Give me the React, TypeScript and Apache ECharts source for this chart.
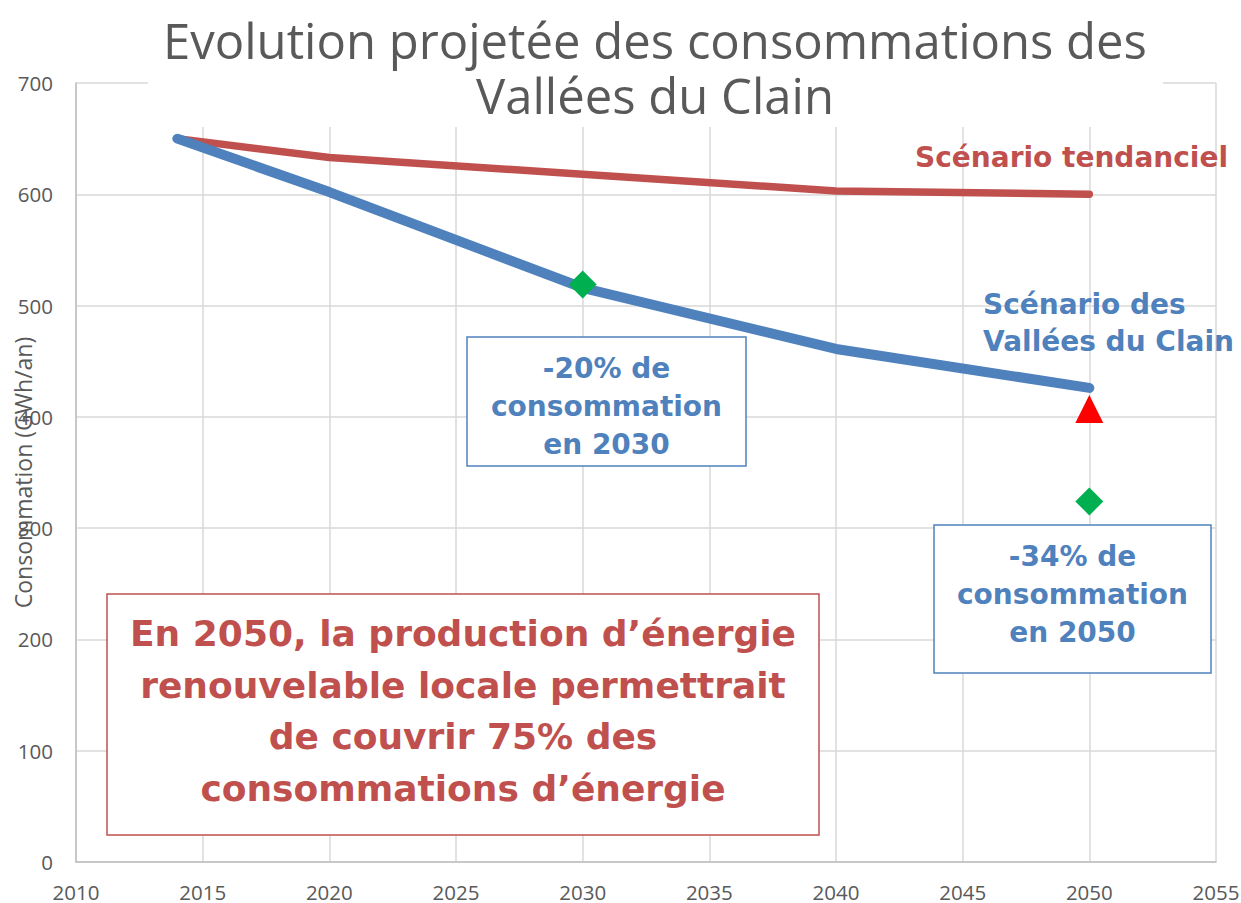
import React, { useEffect, useRef } from "react";
import * as echarts from "echarts";

const xTicks = { min: 2010, max: 2055, interval: 5 };
const yTicks = { min: 0, max: 700, interval: 100 };

const tendancielData: [number, number][] = [
  [2014, 650],
  [2020, 633],
  [2030, 618],
  [2040, 603],
  [2050, 600],
];
const valleesData: [number, number][] = [
  [2014, 650],
  [2020, 602],
  [2030, 516],
  [2040, 461],
  [2050, 426],
];
const diamondTargets: [number, number][] = [
  [2030, 519],
  [2050, 324],
];
const triangleTargets: [number, number][] = [[2050, 407]];

const titleLines = ["Evolution projetée des consommations des", "Vallées du Clain"];
const yAxisName = "Consommation (GWh/an)";
const labelTendanciel = "Scénario tendanciel";
const labelVallees = ["Scénario des", "Vallées du Clain"];
const box2030 = ["-20% de", "consommation", "en 2030"];
const box2050 = ["-34% de", "consommation", "en 2050"];
const boxEnr = [
  "En 2050, la production d’énergie",
  "renouvelable locale permettrait",
  "de couvrir 75% des",
  "consommations d’énergie",
];

const RED = "#C0504D";
const BLUE = "#4F81BD";
const GREY = "#595959";
const FONT = "'Open Sans', 'DejaVu Sans', sans-serif";
const BOLD_FONT = "'DejaVu Sans', 'Open Sans', sans-serif";

function boxGroup(
  x: number,
  y: number,
  w: number,
  h: number,
  color: string,
  lines: string[],
  fontSize: number,
  lineHeight: number,
  centerY: number
) {
  return [
    {
      type: "rect",
      shape: { x, y, width: w, height: h },
      style: { fill: "#FFFFFF", stroke: color, lineWidth: 1.5 },
      z: 50,
    },
    {
      type: "text",
      x: x + w / 2,
      y: centerY,
      style: {
        text: lines.join("\n"),
        fill: color,
        font: `bold ${fontSize}px ${BOLD_FONT}`,
        lineHeight,
        textAlign: "center",
        textVerticalAlign: "middle",
      },
      z: 51,
    },
  ];
}

export default function App() {
  const ref = useRef<HTMLDivElement>(null);

  useEffect(() => {
    if (!ref.current) return;
    const chart = echarts.init(ref.current, null, { renderer: "svg" });

    const graphics: any[] = [
      {
        type: "rect",
        shape: { x: 148, y: 0, width: 1015, height: 127 },
        style: { fill: "#FFFFFF" },
        z: 40,
      },
      {
        type: "text",
        x: 655,
        y: 67.5,
        style: {
          text: titleLines.join("\n"),
          fill: GREY,
          font: `49px ${FONT}`,
          lineHeight: 55,
          textAlign: "center",
          textVerticalAlign: "middle",
        },
        z: 41,
      },
      {
        type: "text",
        x: 1228,
        y: 157,
        style: {
          text: labelTendanciel,
          fill: RED,
          font: `bold 28px ${BOLD_FONT}`,
          textAlign: "right",
          textVerticalAlign: "middle",
        },
        z: 41,
      },
      {
        type: "text",
        x: 983,
        y: 322.5,
        style: {
          text: labelVallees.join("\n"),
          fill: BLUE,
          font: `bold 28px ${BOLD_FONT}`,
          lineHeight: 37,
          textAlign: "left",
          textVerticalAlign: "middle",
        },
        z: 41,
      },
      ...boxGroup(467, 337, 279, 129, BLUE, box2030, 28, 38, 406),
      ...boxGroup(934, 525, 277, 148, BLUE, box2050, 28, 38, 594),
      ...boxGroup(107, 594, 712, 241, RED, boxEnr, 36, 51.5, 711),
    ];

    chart.setOption({
      animation: false,
      backgroundColor: "#FFFFFF",
      grid: {
        left: 76,
        right: 25,
        top: 83,
        bottom: 41,
        containLabel: false,
        outerBoundsMode: "none",
      },
      xAxis: {
        type: "value",
        min: xTicks.min,
        max: xTicks.max,
        interval: xTicks.interval,
        axisLine: { show: true, lineStyle: { color: "#BFBFBF", width: 1.5 } },
        axisTick: { show: false },
        axisLabel: {
          color: GREY,
          fontSize: 20.5,
          fontFamily: "Open Sans",
          lineHeight: 16,
          margin: 22,
          formatter: (v: number) => String(v),
        },
        splitLine: { show: true, lineStyle: { color: "#D9D9D9", width: 1.5 } },
      },
      yAxis: {
        type: "value",
        min: yTicks.min,
        max: yTicks.max,
        interval: yTicks.interval,
        name: yAxisName,
        nameLocation: "middle",
        nameGap: 42,
        nameMoveOverlap: false,
        nameTextStyle: { color: GREY, fontSize: 23, fontFamily: "Open Sans" },
        axisLine: { show: true, lineStyle: { color: "#BFBFBF", width: 1.5 } },
        axisTick: { show: false },
        axisLabel: {
          color: GREY,
          fontSize: 20.5,
          fontFamily: "Open Sans",
          margin: 23,
        },
        splitLine: { show: true, lineStyle: { color: "#D9D9D9", width: 1.5 } },
      },
      series: [
        {
          name: "Scénario tendanciel",
          type: "line",
          data: tendancielData,
          showSymbol: false,
          symbol: "none",
          lineStyle: { color: RED, width: 7.5, cap: "round", join: "round" },
          z: 3,
        },
        {
          name: "Scénario des Vallées du Clain",
          type: "line",
          data: valleesData,
          showSymbol: false,
          symbol: "none",
          lineStyle: { color: BLUE, width: 10, cap: "round", join: "round" },
          z: 4,
        },
        {
          name: "Objectifs",
          type: "scatter",
          data: diamondTargets,
          symbol: "diamond",
          symbolSize: 28,
          itemStyle: { color: "#00B050", opacity: 1 },
          z: 5,
        },
        {
          name: "Triangle",
          type: "scatter",
          data: triangleTargets,
          symbol: "triangle",
          symbolSize: 28,
          itemStyle: { color: "#FF0000", opacity: 1 },
          z: 5,
        },
      ],
      graphic: graphics,
    });

    return () => chart.dispose();
  }, []);

  return (
    <div
      ref={ref}
      style={{ position: "fixed", left: 0, top: 0, width: 1241, height: 903 }}
    />
  );
}
